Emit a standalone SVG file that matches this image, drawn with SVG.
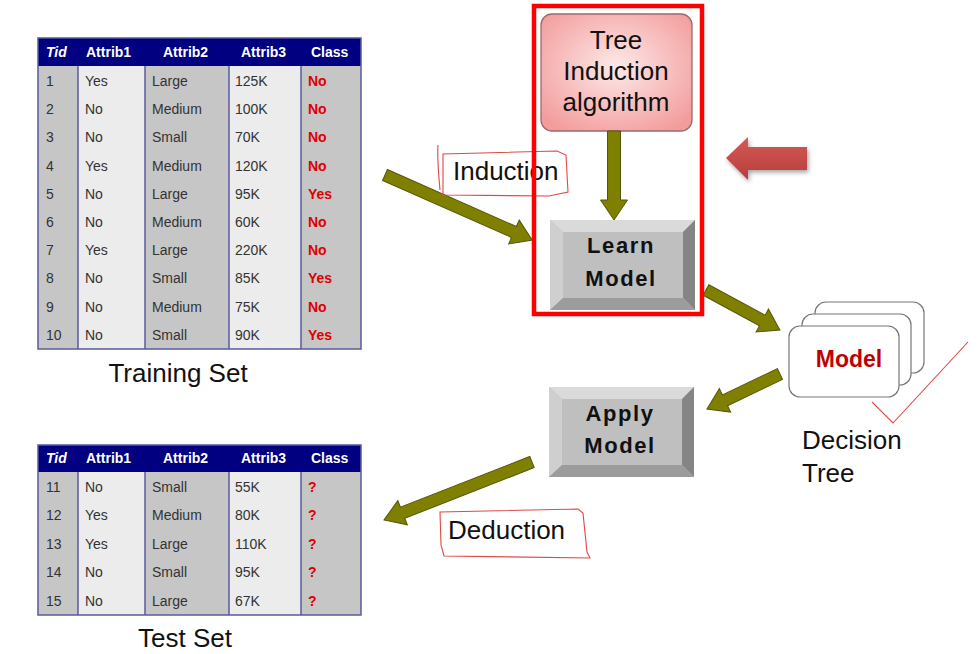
<svg xmlns="http://www.w3.org/2000/svg" width="980" height="654" viewBox="0 0 980 654">
<defs>
<style>
text{font-family:"Liberation Sans",Arial,sans-serif}
.hd{font-size:14px;font-weight:bold;fill:#fff}
.td{font-size:14px;fill:#333}
.cl{font-size:14px;font-weight:bold;fill:#e00000}
.big{font-size:26px;fill:#111}
.btn{font-size:22px;font-weight:bold;fill:#111;letter-spacing:1.6px}
.colD{fill:#c6c6c6}
.colL{fill:#ececec}
.grid{fill:none;stroke:#5a5aa0;stroke-width:1.5}
.arrow{fill:#808000;stroke:#55550a;stroke-width:1}
.note{fill:none;stroke:#e04848;stroke-width:1.1}
.card{fill:#fff;stroke:#777;stroke-width:1.2}
</style>
<radialGradient id="pink" cx="50%" cy="45%" r="65%">
<stop offset="0" stop-color="#fde9e9"/>
<stop offset="1" stop-color="#f39c9c"/>
</radialGradient>
<linearGradient id="redArr" x1="0" y1="0" x2="0" y2="1">
<stop offset="0" stop-color="#d35a57"/>
<stop offset="1" stop-color="#b83c3a"/>
</linearGradient>
<filter id="sh" x="-20%" y="-30%" width="150%" height="170%">
<feDropShadow dx="1.5" dy="2.5" stdDeviation="2" flood-color="#000" flood-opacity="0.35"/>
</filter>
<g id="bevel">
<rect x="0" y="0" width="145" height="90" fill="#bfbfbf"/>
<polygon points="0,0 145,0 133,12 13,12" fill="#dadada"/>
<polygon points="0,0 13,12 13,78 0,90" fill="#cfcfcf"/>
<polygon points="145,0 145,90 133,78 133,12" fill="#858585"/>
<polygon points="0,90 145,90 133,78 13,78" fill="#9c9c9c"/>
</g>
</defs>
<rect width="980" height="654" fill="#fff"/>

<g id="training-table">
<rect x="38" y="66" width="40" height="283" class="colD"/>
<rect x="78" y="66" width="67" height="283" class="colL"/>
<rect x="145" y="66" width="84" height="283" class="colD"/>
<rect x="229" y="66" width="72" height="283" class="colL"/>
<rect x="301" y="66" width="60" height="283" class="colD"/>
<rect x="38" y="38" width="323" height="28" fill="#000080"/>
<rect x="38" y="38" width="323" height="311" class="grid"/>
<path class="grid" d="M78,66V349M145,66V349M229,66V349M301,66V349"/>
<text x="46" y="57" class="hd" font-style="italic">Tid</text>
<text x="86" y="57" class="hd">Attrib1</text>
<text x="163" y="57" class="hd">Attrib2</text>
<text x="241" y="57" class="hd">Attrib3</text>
<text x="311" y="57" class="hd">Class</text>
<g class="td">
<text x="46" y="86">1</text><text x="85" y="86">Yes</text><text x="152" y="86">Large</text><text x="235" y="86">125K</text>
<text x="46" y="114">2</text><text x="85" y="114">No</text><text x="152" y="114">Medium</text><text x="235" y="114">100K</text>
<text x="46" y="142">3</text><text x="85" y="142">No</text><text x="152" y="142">Small</text><text x="235" y="142">70K</text>
<text x="46" y="171">4</text><text x="85" y="171">Yes</text><text x="152" y="171">Medium</text><text x="235" y="171">120K</text>
<text x="46" y="199">5</text><text x="85" y="199">No</text><text x="152" y="199">Large</text><text x="235" y="199">95K</text>
<text x="46" y="227">6</text><text x="85" y="227">No</text><text x="152" y="227">Medium</text><text x="235" y="227">60K</text>
<text x="46" y="255">7</text><text x="85" y="255">Yes</text><text x="152" y="255">Large</text><text x="235" y="255">220K</text>
<text x="46" y="283">8</text><text x="85" y="283">No</text><text x="152" y="283">Small</text><text x="235" y="283">85K</text>
<text x="46" y="312">9</text><text x="85" y="312">No</text><text x="152" y="312">Medium</text><text x="235" y="312">75K</text>
<text x="46" y="340">10</text><text x="85" y="340">No</text><text x="152" y="340">Small</text><text x="235" y="340">90K</text>
</g>
<g class="cl">
<text x="308" y="86">No</text><text x="308" y="114">No</text><text x="308" y="142">No</text><text x="308" y="171">No</text><text x="308" y="199">Yes</text>
<text x="308" y="227">No</text><text x="308" y="255">No</text><text x="308" y="283">Yes</text><text x="308" y="312">No</text><text x="308" y="340">Yes</text>
</g>
<text x="178" y="382" class="big" text-anchor="middle">Training Set</text>
</g>

<g id="test-table">
<rect x="38" y="472" width="40" height="143" class="colD"/>
<rect x="78" y="472" width="67" height="143" class="colL"/>
<rect x="145" y="472" width="84" height="143" class="colD"/>
<rect x="229" y="472" width="72" height="143" class="colL"/>
<rect x="301" y="472" width="60" height="143" class="colD"/>
<rect x="38" y="445" width="323" height="27" fill="#000080"/>
<rect x="38" y="445" width="323" height="170" class="grid"/>
<path class="grid" d="M78,472V615M145,472V615M229,472V615M301,472V615"/>
<text x="46" y="463" class="hd" font-style="italic">Tid</text>
<text x="86" y="463" class="hd">Attrib1</text>
<text x="163" y="463" class="hd">Attrib2</text>
<text x="241" y="463" class="hd">Attrib3</text>
<text x="311" y="463" class="hd">Class</text>
<g class="td">
<text x="46" y="492">11</text><text x="85" y="492">No</text><text x="152" y="492">Small</text><text x="235" y="492">55K</text>
<text x="46" y="520">12</text><text x="85" y="520">Yes</text><text x="152" y="520">Medium</text><text x="235" y="520">80K</text>
<text x="46" y="549">13</text><text x="85" y="549">Yes</text><text x="152" y="549">Large</text><text x="235" y="549">110K</text>
<text x="46" y="577">14</text><text x="85" y="577">No</text><text x="152" y="577">Small</text><text x="235" y="577">95K</text>
<text x="46" y="606">15</text><text x="85" y="606">No</text><text x="152" y="606">Large</text><text x="235" y="606">67K</text>
</g>
<g class="cl">
<text x="308" y="492">?</text><text x="308" y="520">?</text><text x="308" y="549">?</text><text x="308" y="577">?</text><text x="308" y="606">?</text>
</g>
<text x="185" y="647" class="big" text-anchor="middle">Test Set</text>
</g>

<g id="tree-induction">
<rect x="541" y="14" width="151" height="117" rx="11" fill="url(#pink)" stroke="#9a6a6a" stroke-width="1.3"/>
<text x="616" y="49" class="big" text-anchor="middle">Tree</text>
<text x="616" y="80" class="big" text-anchor="middle">Induction</text>
<text x="616" y="111" class="big" text-anchor="middle">algorithm</text>
</g>

<g id="learn-model">
<use href="#bevel" x="550" y="220"/>
<text x="621" y="253" class="btn" text-anchor="middle">Learn</text>
<text x="621" y="286" class="btn" text-anchor="middle">Model</text>
</g>

<g id="apply-model">
<use href="#bevel" x="549" y="387"/>
<text x="620" y="421" class="btn" text-anchor="middle">Apply</text>
<text x="620" y="453" class="btn" text-anchor="middle">Model</text>
</g>

<g id="model">
<rect x="815" y="302" width="109" height="71" rx="11" class="card"/>
<rect x="802" y="314" width="109" height="71" rx="11" class="card"/>
<rect x="789" y="326" width="110" height="71" rx="11" class="card"/>
<text x="849" y="367" font-size="23" font-weight="bold" fill="#c00000" text-anchor="middle">Model</text>
<text x="802" y="449" class="big">Decision</text>
<text x="802" y="482" class="big">Tree</text>
</g>

<g id="connectors">
<g transform="translate(385,175) rotate(23.85)"><polygon class="arrow" points="0,-6 141,-6 141,-13 161,0 141,13 141,6 0,6"/></g>
<g transform="translate(614,131) rotate(90)"><polygon class="arrow" points="0,-6.5 69,-6.5 69,-13.5 89,0 69,13.5 69,6.5 0,6.5"/></g>
<g transform="translate(706,290) rotate(28.4)"><polygon class="arrow" points="0,-6 64,-6 64,-13 84,0 64,13 64,6 0,6"/></g>
<g transform="translate(780,374) rotate(154.4)"><polygon class="arrow" points="0,-6 61,-6 61,-13 81,0 61,13 61,6 0,6"/></g>
<g transform="translate(532,462) rotate(158.6)"><polygon class="arrow" points="0,-6 139,-6 139,-13 159,0 139,13 139,6 0,6"/></g>
</g>

<g id="highlight-arrow">
<polygon points="726,158 748,137 748,147 807,147 807,170 748,170 748,180" fill="url(#redArr)" filter="url(#sh)"/>
</g>

<g id="annotations">
<text x="453" y="180" class="big">Induction</text>
<path class="note" d="M438,145 C437,160 439,178 440,190 M443,154 L557,151 L566,155 L568,192 L549,196 L443,195 Z"/>
<text x="448" y="539" class="big">Deduction</text>
<path class="note" d="M440,512 L578,509 L583,513 L587,552 L590,558 L444,556 L441,545 Z"/>
<path class="note" d="M872,402 L893,423 L968,342"/>
</g>

<rect id="focus-box" x="534" y="6" width="168" height="308" fill="none" stroke="#ff0000" stroke-width="4.5"/>
</svg>
